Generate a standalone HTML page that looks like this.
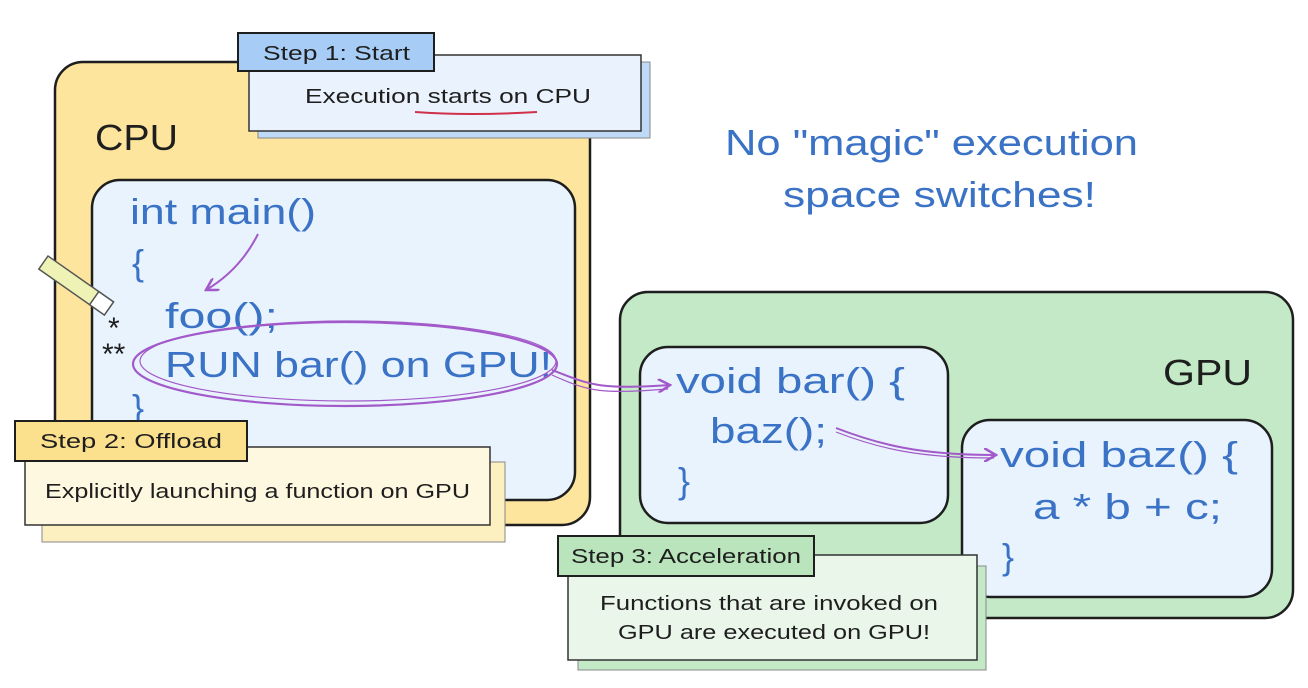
<!DOCTYPE html>
<html><head><meta charset="utf-8"><style>
body{margin:0;background:#fff;width:1308px;height:688px;overflow:hidden;font-family:"Liberation Sans",sans-serif}
svg{position:absolute;left:0;top:0}
</style></head><body>
<svg width="1308" height="688" viewBox="0 0 1308 688">
<defs>
<marker id="ah" markerWidth="14" markerHeight="14" refX="12" refY="7" orient="auto" markerUnits="userSpaceOnUse">
<path d="M0,0 L12,7 L0,14" fill="none" stroke="#a259c9" stroke-width="2.5"/></marker>
</defs>
<!-- CPU -->
<rect x="55" y="62" width="535" height="463" rx="28" fill="#fde59d" stroke="#1e1e1e" stroke-width="2.5"/>
<rect x="92" y="180" width="483" height="320" rx="28" fill="#e8f3fd" stroke="#1e1e1e" stroke-width="2.5"/>
<text x="95" y="150" font-size="36" fill="#1e1e1e" textLength="83" lengthAdjust="spacingAndGlyphs">CPU</text>
<!-- Step 1 -->
<rect x="258" y="62" width="392" height="76" fill="#bfdaf7" stroke="#888" stroke-width="1"/>
<rect x="249" y="55" width="392" height="76" fill="#eaf3fd" stroke="#333" stroke-width="1.5"/>
<rect x="238" y="33" width="196" height="38" fill="#a7cdf6" stroke="#1e1e1e" stroke-width="2"/>
<text x="263" y="60" font-size="20" fill="#1e1e1e" textLength="147" lengthAdjust="spacingAndGlyphs">Step 1: Start</text>
<text x="305" y="103" font-size="20" fill="#1e1e1e" textLength="286" lengthAdjust="spacingAndGlyphs">Execution starts on CPU</text>
<path d="M415,112 Q470,116 537,112" stroke="#d0304a" stroke-width="2" fill="none"/>
<!-- code -->
<g font-size="36" fill="#3a72c6">
<text x="130" y="224" textLength="186" lengthAdjust="spacingAndGlyphs">int main()</text>
<text x="132" y="275">{</text>
<text x="165" y="328" textLength="113" lengthAdjust="spacingAndGlyphs">foo();</text>
<text x="165" y="377" textLength="387" lengthAdjust="spacingAndGlyphs">RUN bar() on GPU!</text>
<text x="132" y="420">}</text>
</g>
<path d="M258,234 Q240,270 206,290" stroke="#a259c9" stroke-width="2" fill="none" marker-end="url(#ah)"/>
<ellipse cx="345" cy="364" rx="212" ry="42" fill="none" stroke="#a259c9" stroke-width="2.2"/>
<ellipse cx="348" cy="361" rx="208" ry="40" fill="none" stroke="#a259c9" stroke-width="1.2"/>
<!-- pencil -->
<g transform="translate(48,256) rotate(35)"><rect x="0" y="0" width="80" height="16" fill="#eef3b5" stroke="#555" stroke-width="1.5"/><rect x="62" y="0" width="18" height="16" fill="#fff" stroke="#555" stroke-width="1.5"/></g>
<text x="108" y="338" font-size="30" fill="#1e1e1e">*</text>
<text x="102" y="364" font-size="30" fill="#1e1e1e">**</text>
<!-- Step 2 -->
<rect x="42" y="462" width="463" height="80" fill="#fdf0c0" stroke="#888" stroke-width="1"/>
<rect x="25" y="447" width="465" height="78" fill="#fff8e1" stroke="#333" stroke-width="1.5"/>
<rect x="15" y="421" width="232" height="40" fill="#fbe08e" stroke="#1e1e1e" stroke-width="2"/>
<text x="40" y="448" font-size="20" fill="#1e1e1e" textLength="182" lengthAdjust="spacingAndGlyphs">Step 2: Offload</text>
<text x="45" y="498" font-size="20" fill="#1e1e1e" textLength="425" lengthAdjust="spacingAndGlyphs">Explicitly launching a function on GPU</text>
<!-- Title -->
<g font-size="36" fill="#3a72c6">
<text x="725" y="155" textLength="413" lengthAdjust="spacingAndGlyphs">No "magic" execution</text>
<text x="783" y="207" textLength="313" lengthAdjust="spacingAndGlyphs">space switches!</text>
</g>
<!-- GPU -->
<rect x="620" y="292" width="673" height="326" rx="28" fill="#c3e9c6" stroke="#1e1e1e" stroke-width="2.5"/>
<text x="1163" y="385" font-size="36" fill="#1e1e1e" textLength="89" lengthAdjust="spacingAndGlyphs">GPU</text>
<rect x="640" y="347" width="308" height="176" rx="28" fill="#e8f3fd" stroke="#1e1e1e" stroke-width="2.5"/>
<rect x="962" y="420" width="310" height="177" rx="28" fill="#e8f3fd" stroke="#1e1e1e" stroke-width="2.5"/>
<g font-size="36" fill="#3a72c6">
<text x="676" y="393" textLength="229" lengthAdjust="spacingAndGlyphs">void bar() {</text>
<text x="710" y="443" textLength="117" lengthAdjust="spacingAndGlyphs">baz();</text>
<text x="678" y="493">}</text>
<text x="1000" y="467" textLength="238" lengthAdjust="spacingAndGlyphs">void baz() {</text>
<text x="1033" y="519" textLength="189" lengthAdjust="spacingAndGlyphs">a * b + c;</text>
<text x="1002" y="569">}</text>
</g>
<path d="M552,370 C590,385 600,390 670,385" stroke="#a259c9" stroke-width="2" fill="none" marker-end="url(#ah)"/>
<path d="M552,375 C590,392 600,394 668,389" stroke="#a259c9" stroke-width="1.2" fill="none"/>
<path d="M836,428 C880,445 920,455 996,455" stroke="#a259c9" stroke-width="2" fill="none" marker-end="url(#ah)"/>
<path d="M836,432 C880,449 920,458 994,458" stroke="#a259c9" stroke-width="1.2" fill="none"/>
<!-- Step 3 -->
<rect x="578" y="566" width="408" height="104" fill="#c3e9c6" stroke="#888" stroke-width="1"/>
<rect x="568" y="555" width="409" height="105" fill="#eaf6ea" stroke="#333" stroke-width="1.5"/>
<rect x="558" y="536" width="256" height="40" fill="#b9e4bc" stroke="#1e1e1e" stroke-width="2"/>
<text x="571" y="563" font-size="20" fill="#1e1e1e" textLength="230" lengthAdjust="spacingAndGlyphs">Step 3: Acceleration</text>
<text x="600" y="610" font-size="20" fill="#1e1e1e" textLength="338" lengthAdjust="spacingAndGlyphs">Functions that are invoked on</text>
<text x="618" y="639" font-size="20" fill="#1e1e1e" textLength="312" lengthAdjust="spacingAndGlyphs">GPU are executed on GPU!</text>
</svg>
</body></html>
